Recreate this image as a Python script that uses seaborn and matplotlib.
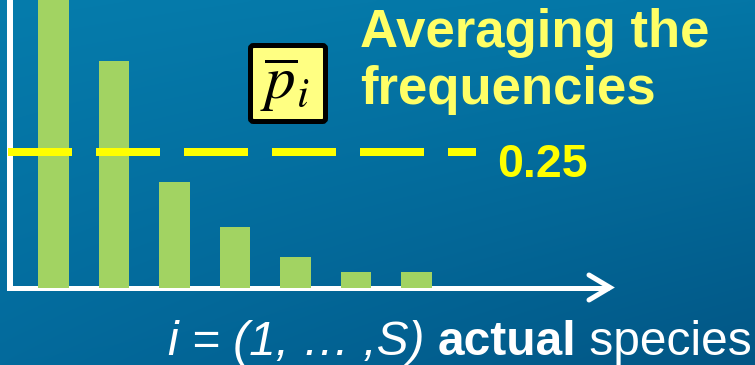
import numpy as np
import matplotlib
matplotlib.use("Agg")
import matplotlib.pyplot as plt
from matplotlib.patches import FancyBboxPatch
import seaborn as sns

# Species ranks and their relative frequencies
species = ["1", "2", "3", "4", "5", "6", "7"]
frequencies = [0.62, 0.417, 0.195, 0.112, 0.057, 0.029, 0.029]
average_freq = 0.25
average_label = "0.25"

title_lines = ["Averaging the", "frequencies"]
xlabel_parts = ["i = (1, … ,S) ", "actual", " species"]

W, H, DPI = 755, 365, 100
BAR_GREEN = "#a2d362"
TITLE_YELLOW = "#ffff66"
LINE_YELLOW = "#ffff00"

plt.rcParams["font.family"] = ["Liberation Sans", "DejaVu Sans"]
plt.rcParams["mathtext.fontset"] = "stix"

fig = plt.figure(figsize=(W / DPI, H / DPI), dpi=DPI)

# Background: soft blue gradient, and the x-axis arrow drawn in pixel space
bg = fig.add_axes([0, 0, 1, 1], zorder=0)
bg.set_xlim(0, W)
bg.set_ylim(H, 0)
bg.axis("off")
tl, tr = np.array([6, 124, 172]), np.array([4, 118, 166])
bl, br = np.array([3, 106, 156]), np.array([2, 86, 133])
u = np.linspace(0, 1, 200)[None, :, None]
v = np.linspace(0, 1, 120)[:, None, None]
grad = (tl * (1 - u) * (1 - v) + tr * u * (1 - v) + bl * (1 - u) * v + br * u * v) / 255
bg.imshow(grad, extent=[0, W, H, 0], aspect="auto", interpolation="bicubic")

axis_lw = 5 * 72 / DPI
bg.plot([7, 609], [287.5, 287.5], color="white", lw=axis_lw, solid_capstyle="butt")
bg.plot([589, 610, 589], [275, 287.5, 300], color="white", lw=axis_lw,
        solid_capstyle="round", solid_joinstyle="miter")

# Main axes with the bars
x0_px, x1_px, base_px, top_px = 10, 612, 288, 0
ax = fig.add_axes([x0_px / W, (H - base_px) / H, (x1_px - x0_px) / W, (base_px - top_px) / H],
                  zorder=1)
ax.patch.set_alpha(0)
sns.barplot(x=species, y=frequencies, color=BAR_GREEN, saturation=1, width=0.512,
            linewidth=0, ax=ax)

px_per_unit = 60.5
first_center_px = 53.5
ax.set_xlim((x0_px - first_center_px) / px_per_unit, (x1_px - first_center_px) / px_per_unit)
ax.set_ylim(0, average_freq * (base_px - top_px) / 136)

for side in ["top", "right", "bottom"]:
    ax.spines[side].set_visible(False)
ax.spines["left"].set_color("white")
ax.spines["left"].set_linewidth(6 * 72 / DPI)
ax.set_xticks([])
ax.set_yticks([])
ax.set_xlabel("")
ax.set_ylabel("")

# Dashed mean-frequency line
line_lw = 8 * 72 / DPI
ax.hlines(average_freq, (8 - first_center_px) / px_per_unit, (476 - first_center_px) / px_per_unit,
          colors=LINE_YELLOW, linewidth=line_lw, linestyles=(0, (8, 3)), zorder=3, clip_on=False)

# Annotations on top
top = fig.add_axes([0, 0, 1, 1], zorder=2)
top.set_xlim(0, W)
top.set_ylim(H, 0)
top.axis("off")

top.text(497, 177, average_label, color=LINE_YELLOW, fontsize=33.5, fontweight="bold",
         ha="left", va="baseline")
top.text(360, 47, title_lines[0], color=TITLE_YELLOW, fontsize=38, fontweight="bold",
         ha="left", va="baseline")
top.text(360, 104, title_lines[1], color=TITLE_YELLOW, fontsize=38, fontweight="bold",
         ha="left", va="baseline")

box = FancyBboxPatch((250.5, 45.5), 75, 76, boxstyle="round,pad=0,rounding_size=3",
                     fc="#ffff82", ec="black", lw=5 * 72 / DPI)
top.add_patch(box)
top.text(285, 85, r"$\overline{p}_i$", fontsize=44, color="black", ha="center", va="center")

# Axis caption: italic, bold and regular pieces laid out one after another
fig.canvas.draw()
renderer = fig.canvas.get_renderer()
styles = [dict(fontstyle="italic"), dict(fontweight="bold"), dict()]
x_cursor = 168
for part, st in zip(xlabel_parts, styles):
    t = top.text(x_cursor, 355, part, color="white", fontsize=34.5, ha="left", va="baseline", **st)
    bb = t.get_window_extent(renderer=renderer)
    x_cursor += bb.width

fig.savefig("out.png", dpi=DPI)
